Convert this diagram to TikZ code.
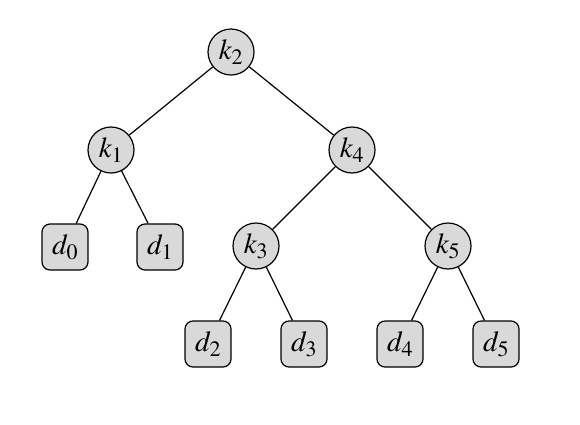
\documentclass[tikz,border=0pt]{standalone}
\usepackage{mathptmx}
\usepackage{tikz}
\DeclareMathSizes{29}{29}{22}{17}
\tikzset{
    key/.style={
        circle,
        draw,
        fill=black!15,
        line width=1.2pt,
        minimum size=46pt,
        inner sep=0pt,
        font=\fontsize{29}{32}\selectfont
    },
    dummy/.style={
        rectangle,
        rounded corners=8pt,
        draw,
        fill=black!15,
        line width=1.2pt,
        minimum width=46pt,
        minimum height=46pt,
        inner sep=0pt,
        font=\fontsize{29}{32}\selectfont
    }
}

\begin{document}
\begin{tikzpicture}[
    x=1pt,
    y=-1pt
]

    \useasboundingbox (0,0) rectangle (580,424);

    % Claves
    \node[key]   (k2) at (231,52)  {$k_2$};
    \node[key]   (k1) at (111,150) {$k_1$};
    \node[key]   (k4) at (352,150) {$k_4$};
    \node[key]   (k3) at (256,246) {$k_3$};
    \node[key]   (k5) at (448,246) {$k_5$};

    % Hojas
    \node[dummy] (d0) at (65,247)  {$d_0$};
    \node[dummy] (d1) at (160,247) {$d_1$};
    \node[dummy] (d2) at (208,344) {$d_2$};
    \node[dummy] (d3) at (304,344) {$d_3$};
    \node[dummy] (d4) at (400,344) {$d_4$};
    \node[dummy] (d5) at (496,344) {$d_5$};

    % Aristas
    \path[draw, line width=1.2pt]
        (k2) edge (k1)
             edge (k4)
        (k1) edge (d0)
             edge (d1)
        (k4) edge (k3)
             edge (k5)
        (k3) edge (d2)
             edge (d3)
        (k5) edge (d4)
             edge (d5);

\end{tikzpicture}
\end{document}
